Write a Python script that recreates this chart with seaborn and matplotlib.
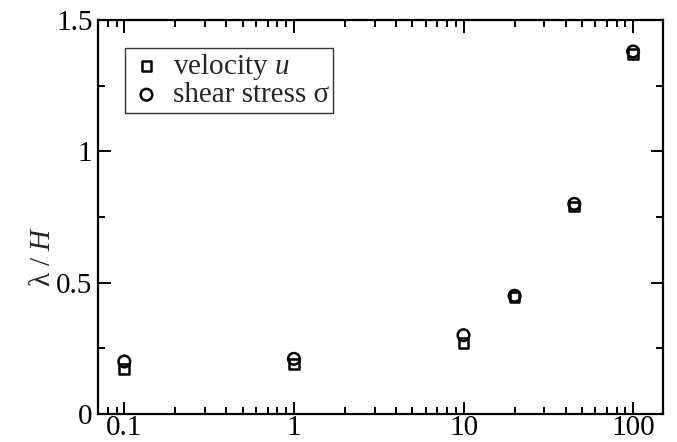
import matplotlib
matplotlib.use("Agg")
import matplotlib.pyplot as plt
from matplotlib.ticker import LogLocator, FixedLocator, MultipleLocator, FuncFormatter
import seaborn as sns
import pandas as pd

# Wavelength data versus parameter
x_vals = [0.1, 1, 10, 20, 45, 100]
u_vals = [0.17, 0.19, 0.27, 0.445, 0.79, 1.37]
sigma_vals = [0.20, 0.21, 0.30, 0.45, 0.80, 1.38]
x_ticks = [0.1, 1, 10, 100]
x_tick_labels = ["0.1", "1", "10", "100"]
y_ticks = [0, 0.5, 1, 1.5]
y_tick_labels = ["0", "0.5", "1", "1.5"]

sns.set_theme(style="ticks")
plt.rcParams["font.family"] = ["Liberation Serif", "DejaVu Serif"]
plt.rcParams["mathtext.fontset"] = "custom"
plt.rcParams["mathtext.rm"] = "Liberation Serif"
plt.rcParams["mathtext.it"] = "Liberation Serif:italic"

df_u = pd.DataFrame({"x": x_vals, "y": u_vals})
df_s = pd.DataFrame({"x": x_vals, "y": sigma_vals})

fig = plt.figure(figsize=(6.77, 4.42), dpi=100)
ax = fig.add_axes([0.1448, 0.0633, 0.9793 - 0.1448, 0.9548 - 0.0633])

sns.scatterplot(data=df_u, x="x", y="y", ax=ax, marker="s", s=50,
                facecolor="none", edgecolor="black", linewidth=1.8,
                label=r"velocity $\it{u}$", zorder=3)
sns.scatterplot(data=df_s, x="x", y="y", ax=ax, marker="o", s=70,
                facecolor="none", edgecolor="black", linewidth=1.8,
                label="shear stress σ", zorder=4)

ax.set_xscale("log")
ax.set_xlim(0.07, 150)
ax.set_ylim(0, 1.5)
ax.xaxis.set_major_locator(FixedLocator(x_ticks))
ax.xaxis.set_major_formatter(FuncFormatter(lambda v, p: dict(zip(x_ticks, x_tick_labels)).get(v, "")))
ax.xaxis.set_minor_locator(LogLocator(base=10, subs=range(2, 10)))
ax.xaxis.set_minor_formatter(FuncFormatter(lambda v, p: ""))
ax.yaxis.set_major_locator(FixedLocator(y_ticks))
ax.set_yticklabels(y_tick_labels)
ax.yaxis.set_minor_locator(MultipleLocator(0.25))

for s in ax.spines.values():
    s.set_visible(True)
    s.set_linewidth(1.6)
    s.set_color("black")
ax.tick_params(which="both", direction="in", top=True, right=True,
               colors="black", labelsize=21, width=1.4)
ax.tick_params(which="major", length=9, pad=4)
ax.tick_params(axis="x", which="major", pad=1)
ax.tick_params(which="minor", length=5)

ax.set_xlabel("")
ax.set_ylabel(r"λ / $\it{H}$", fontsize=21)
ax.yaxis.set_label_coords(-0.075, 0.40)

leg = ax.legend(loc="upper left", bbox_to_anchor=(0.047, 0.93), fontsize=21,
                frameon=True, fancybox=False, edgecolor="black",
                handletextpad=0.3, borderpad=0.15, labelspacing=0.0,
                handlelength=1.2, borderaxespad=0)
leg.get_frame().set_linewidth(1.0)

fig.savefig("out.png", dpi=100)
